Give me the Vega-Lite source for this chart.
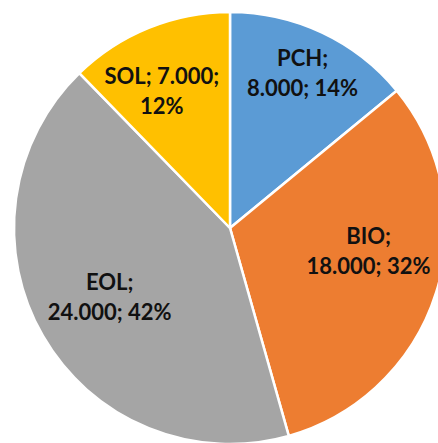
{
  "$schema": "https://vega.github.io/schema/vega-lite/v6.json",
  "width": 460,
  "height": 456,
  "padding": 0,
  "autosize": {"type": "none"},
  "background": "white",
  "view": {"stroke": null},
  "data": {
    "values": [
      {"cat": "PCH", "value": 8000, "rank": 1, "label": "PCH;|8.000; 14%"},
      {"cat": "BIO", "value": 18000, "rank": 2, "label": "BIO;|18.000; 32%"},
      {"cat": "EOL", "value": 24000, "rank": 3, "label": "EOL;|24.000; 42%"},
      {"cat": "SOL", "value": 7000, "rank": 4, "label": "SOL; 7.000;|12%"}
    ]
  },
  "encoding": {
    "theta": {"field": "value", "type": "quantitative", "stack": true},
    "order": {"field": "rank", "type": "quantitative"}
  },
  "layer": [
    {
      "mark": {"type": "arc", "outerRadius": 216, "stroke": "white", "strokeWidth": 2.5},
      "encoding": {
        "color": {
          "field": "cat",
          "type": "nominal",
          "scale": {"domain": ["PCH", "BIO", "EOL", "SOL"], "range": ["#5B9BD5", "#ED7D31", "#A5A5A5", "#FFC000"]},
          "legend": null
        }
      }
    },
    {
      "mark": {
        "type": "text",
        "font": "Lato",
        "fontWeight": "bold",
        "fontSize": 22,
        "lineBreak": "|",
        "lineHeight": 30,
        "align": "center",
        "baseline": "middle",
        "fill": "#111111",
        "radius": {"expr": "datum.cat === 'PCH' ? 170 : datum.cat === 'BIO' ? 142 : datum.cat === 'EOL' ? 139 : 152"},
        "dx": {"expr": "datum.cat === 'BIO' ? 3 : datum.cat === 'SOL' ? -11 : 0"},
        "dy": {"expr": "datum.cat === 'BIO' ? -33 : datum.cat === 'SOL' ? -10 : -15"}
      },
      "encoding": {
        "text": {"field": "label", "type": "nominal"}
      }
    }
  ]
}
